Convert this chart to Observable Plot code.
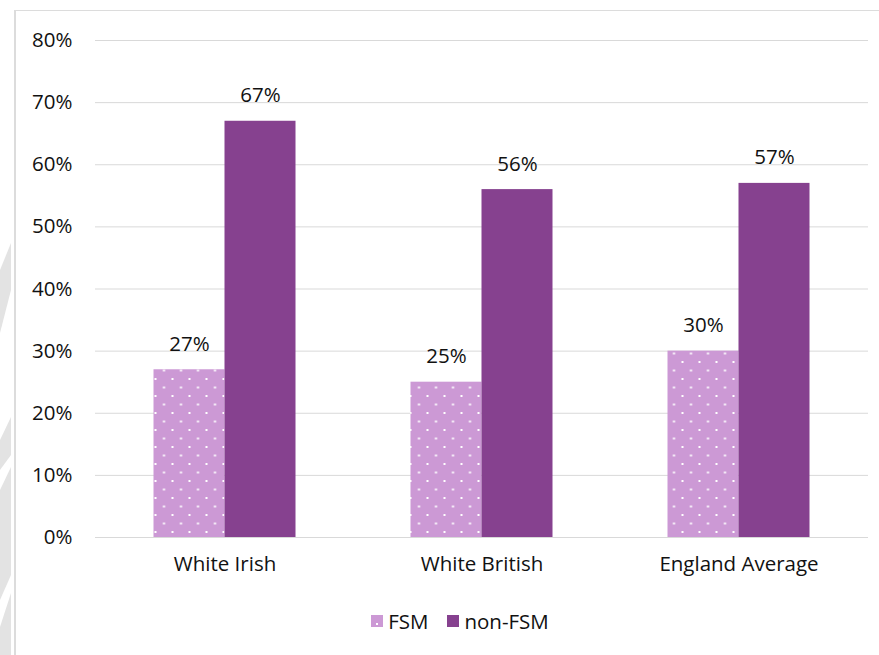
<!DOCTYPE html>
<html>
<head>
<meta charset="utf-8">
<script src="https://cdn.jsdelivr.net/npm/d3@7"></script>
<script src="https://cdn.jsdelivr.net/npm/@observablehq/plot@0.6"></script>
<style>
  html, body { margin: 0; padding: 0; background: #fff; }
  #wrap { position: relative; width: 879px; height: 655px; overflow: hidden; font-family: "Open Sans", sans-serif; }
  #frame { position: absolute; left: 14px; top: 10px; right: -2px; bottom: -2px; border-left: 2px solid #dcdcdc; border-top: 1px solid #dcdcdc; pointer-events: none; }
  #edge { position: absolute; left: 0; top: 0; }
  #legend { display: flex; justify-content: center; align-items: center; padding-left: 41px; margin-top: 21px; height: 20px; font-size: 20.5px; color: #111; }
  #legend .item { display: flex; align-items: center; }
  #legend .item + .item { margin-left: 19px; }
  #legend svg { margin-right: 5px; }
</style>
</head>
<body>
<div id="wrap">
  <svg id="edge" width="14" height="655">
    <!-- light page-edge chevrons -->
    <g fill="#e3e3e3">
      <polygon points="11,243 11,290 0,333 0,270"/>
      <polygon points="11,417 11,455 0,470 0,440"/>
      <polygon points="11,467 11,575 0,600 0,490"/>
      <polygon points="11,593 11,655 0,655 0,627"/>
    </g>
  </svg>
  <div id="chart"></div>
  <div id="legend"></div>
  <div id="frame"></div>
</div>
<script>
// Share of pupils, by group and free-school-meal status
const categories = ["White Irish", "White British", "England Average"];
const seriesNames = ["FSM", "non-FSM"];
const fsmValues = [27, 25, 30];
const nonFsmValues = [67, 56, 57];
const yTicks = [0, 10, 20, 30, 40, 50, 60, 70, 80];

const fsmColor = "#cc99d5";
const nonFsmColor = "#86418f";

const fsmRows = categories.map((c, i) => ({category: c, series: seriesNames[0], value: fsmValues[i]}));
const nonFsmRows = categories.map((c, i) => ({category: c, series: seriesNames[1], value: nonFsmValues[i]}));

const width = 879, height = 590;
const marginLeft = 95, marginRight = 11, marginTop = 40, marginBottom = 53;
const groupStep = (width - marginLeft - marginRight) / categories.length;
const barWidth = 71;
const paddingInner = 1 - barWidth / groupStep;
const half = barWidth / 2;

const pct = d => `${d}%`;

const chart = Plot.plot({
  width, height, marginLeft, marginRight, marginTop, marginBottom,
  style: {fontFamily: "'Open Sans', sans-serif", fontSize: "20.5px", color: "#111", background: "transparent", overflow: "visible"},
  x: {domain: categories, paddingInner, paddingOuter: paddingInner / 2, label: null, tickSize: 0, tickPadding: 19},
  y: {domain: [0, 80], ticks: yTicks, tickFormat: pct, label: null, tickSize: 0, tickPadding: 23},
  marks: [
    Plot.ruleY(yTicks, {stroke: "#d9d9d9", strokeWidth: 1}),
    Plot.barY(fsmRows, {x: "category", y: "value", fill: "url(#fsm-dots)", dx: -half}),
    Plot.barY(nonFsmRows, {x: "category", y: "value", fill: nonFsmColor, dx: half}),
    Plot.text(fsmRows, {x: "category", y: "value", text: d => pct(d.value), dx: -half, dy: -19, lineAnchor: "bottom", fill: "#111"}),
    Plot.text(nonFsmRows, {x: "category", y: "value", text: d => pct(d.value), dx: half, dy: -19, lineAnchor: "bottom", fill: "#111"})
  ]
});

// dotted fill for the FSM bars
const defs = d3.select(chart).insert("defs", ":first-child");
const pat = defs.append("pattern")
  .attr("id", "fsm-dots")
  .attr("patternUnits", "userSpaceOnUse")
  .attr("width", 17).attr("height", 17);
pat.append("rect").attr("width", 17).attr("height", 17).attr("fill", fsmColor);
pat.append("rect").attr("x", 3).attr("y", 4).attr("width", 2).attr("height", 2).attr("fill", "#fff");
pat.append("rect").attr("x", 11.5).attr("y", 12.5).attr("width", 2).attr("height", 2).attr("fill", "#fff");

document.getElementById("chart").appendChild(chart);

// legend
const legend = d3.select("#legend");
const swatches = [
  {name: seriesNames[0], color: fsmColor, dot: true},
  {name: seriesNames[1], color: nonFsmColor, dot: false}
];
for (const s of swatches) {
  const item = legend.append("div").attr("class", "item");
  const sw = item.append("svg").attr("width", 12).attr("height", 12);
  sw.append("rect").attr("width", 12).attr("height", 12).attr("fill", s.color);
  if (s.dot) sw.append("rect").attr("x", 5).attr("y", 8).attr("width", 2).attr("height", 2).attr("fill", "#fff");
  item.append("span").text(s.name);
}
</script>
</body>
</html>
